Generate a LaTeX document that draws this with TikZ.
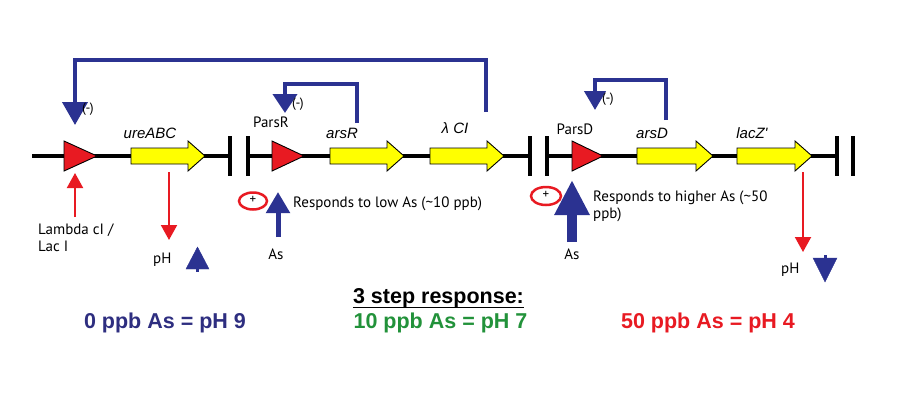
\documentclass[tikz,border=0pt]{standalone}
\usepackage{fontspec}
\setmainfont{PT Sans}
\newfontfamily\arialf{Liberation Sans}
\usetikzlibrary{arrows.meta}
\definecolor{fbblue}{RGB}{43,50,145}
\definecolor{txtblue}{RGB}{46,46,128}
\definecolor{pred}{RGB}{232,26,34}
\definecolor{gyel}{RGB}{255,255,0}
\definecolor{tgreen}{RGB}{34,146,58}
\newcommand\genearrow[3]{%
  \filldraw[genesty] (#1,148) -- ({#2-17},148) -- ({#2-17},141) -- (#2,156) -- ({#2-17},171) -- ({#2-17},164) -- (#1,164) -- cycle;
  \coordinate (#3) at ({(#1+#2)/2},148);}
\newcommand\promoter[3]{%
  \filldraw[promsty] (#1,141) -- (#1,171) -- ({#1+#2},156) -- cycle;
  \coordinate (#3) at ({#1+#2/2},156);}
\begin{document}
\begin{tikzpicture}[x=1pt,y=-1pt,
  bb/.style={line width=4pt,black},
  termbar/.style={line width=4.5pt,black},
  genesty/.style={fill=gyel,draw=black,line width=0.9pt},
  promsty/.style={fill=pred,draw=black,line width=0.9pt,line join=miter},
  fb/.style={draw=fbblue,line width=4pt,line join=miter},
  redarr/.style={draw=pred,line width=2pt,-{Triangle[width=16pt,length=15pt]}},
  lab/.style={font=\fontsize{15}{17}\selectfont,inner sep=0pt},
  glab/.style={font=\arialf\itshape\fontsize{15}{17}\selectfont,inner sep=0pt},
  minus/.style={font=\fontsize{13.5}{15}\selectfont,inner sep=0pt},
  big/.style={font=\arialf\bfseries\fontsize{21.5}{24}\selectfont,inner sep=0pt},
  plusell/.style={draw=pred,line width=2.5pt}]
\useasboundingbox[fill=white] (0,0) rectangle (900,400);

% backbone
\draw[bb] (32,156) -- (230,156);
\draw[bb] (248,156) -- (530,156);
\draw[bb] (547,156) -- (837,156);
\foreach \x in {230,248,530,547,837,853}
  \draw[termbar] (\x,136) -- (\x,176);

% promoters
\promoter{64}{33}{p1}
\promoter{272}{32}{p2}
\promoter{572}{31}{p3}

% genes
\genearrow{131}{205}{gUre}
\genearrow{330}{404}{gArsR}
\genearrow{430}{504}{gLCI}
\genearrow{637}{713}{gArsD}
\genearrow{737}{812}{gLacZ}

% gene labels
\node[glab,anchor=base] (lUre) at (150,138) {ureABC};
\node[glab,anchor=base] (lArsR) at (342,138) {arsR};
\node[glab,anchor=base] (lLCI) at (455,133) {λ CI};
\node[glab,anchor=base] (lArsD) at (652,138) {arsD};
\node[glab,anchor=base] (lLacZ) at (752,138) {lacZ'};
\node[lab,anchor=base] (lParsR) at (271,127) {ParsR};
\node[lab,anchor=base] (lParsD) at (575,134) {ParsD};

% feedback arrows
\coordinate (fb1s) at (486,112);
\coordinate (fb1e) at (75,125);
\draw[fb,-{Triangle[width=25pt,length=23pt]}] (fb1s) |- (75,60) -- (fb1e);
\node[minus,anchor=base west] (m1) at (82,112) {(-)};
\coordinate (fb2s) at (357,123);
\coordinate (fb2e) at (285,113);
\draw[fb,-{Triangle[width=24pt,length=19pt]}] (fb2s) |- (285,84) -- (fb2e);
\node[minus,anchor=base west] (m2) at (292,107) {(-)};
\coordinate (fb3s) at (666,120);
\coordinate (fb3e) at (595,110);
\draw[fb,-{Triangle[width=21pt,length=19pt]}] (fb3s) |- (595,80) -- (fb3e);
\node[minus,anchor=base west] (m3) at (602,102) {(-)};

% inputs / outputs
\node[lab,anchor=base west] (lam) at (38,234) {Lambda cI /};
\node[lab,anchor=base west] (lac) at (38,251) {Lac I};
\coordinate (r1s) at (75,217);
\coordinate (r1e) at (75,173);
\draw[redarr] (r1s) -- (r1e);

\coordinate (r2s) at (169,172);
\coordinate (r2e) at (169,240);
\draw[redarr] (r2s) -- (r2e);
\node[lab,anchor=base west] (ph1) at (153,263) {pH};
\filldraw[fbblue] (186,269) -- (209,269) -- (197.5,247) -- cycle;
\draw[fbblue,line width=3pt] (197.5,268) -- (197.5,272);

\coordinate (r3s) at (803,172);
\coordinate (r3e) at (803,252);
\draw[redarr] (r3s) -- (r3e);
\node[lab,anchor=base west] (ph2) at (781,273) {pH};
\filldraw[fbblue] (813,258) -- (837,258) -- (825,282) -- cycle;
\draw[fbblue,line width=3pt] (825,259) -- (825,255);

% arsenic inputs
\draw[plusell] (253,201) ellipse [x radius=14, y radius=8.5];
\node[font=\fontsize{13}{14}\selectfont,inner sep=0pt] (plus1) at (253,200) {+};
\coordinate (as1s) at (278,237);
\coordinate (as1e) at (278,192);
\draw[fbblue,line width=5pt,-{Triangle[width=23pt,length=21pt]}] (as1s) -- (as1e);
\node[lab,anchor=base] (as1) at (276,259) {As};
\node[lab,anchor=base west] (resp1) at (293,207) {Responds to low As (\textasciitilde10 ppb)};

\draw[plusell] (546,196) ellipse [x radius=15, y radius=9];
\node[font=\fontsize{13}{14}\selectfont,inner sep=0pt] (plus2) at (546,195) {+};
\coordinate (as2s) at (572,242);
\coordinate (as2e) at (572,180);
\draw[fbblue,line width=10pt,-{Triangle[width=33pt,length=35pt]}] (as2s) -- (as2e);
\node[lab,anchor=base] (as2) at (572,259) {As};
\node[lab,anchor=base west] (resp2a) at (593,201) {Responds to higher As (\textasciitilde50};
\node[lab,anchor=base west] (resp2b) at (593,218) {ppb)};

% bottom
\node[big,anchor=base] (title) at (438.5,303) {3 step response:};
\draw[line width=1.6pt] ([yshift=-4.5pt]title.base west) -- ([yshift=-4.5pt]title.base east);
\node[big,anchor=base,text=txtblue] (r0) at (165,328) {0 ppb As = pH 9};
\node[big,anchor=base,text=tgreen] (r10) at (440.5,328) {10 ppb As = pH 7};
\node[big,anchor=base,text=pred] (r50) at (708,328) {50 ppb As = pH 4};
\end{tikzpicture}
\end{document}
